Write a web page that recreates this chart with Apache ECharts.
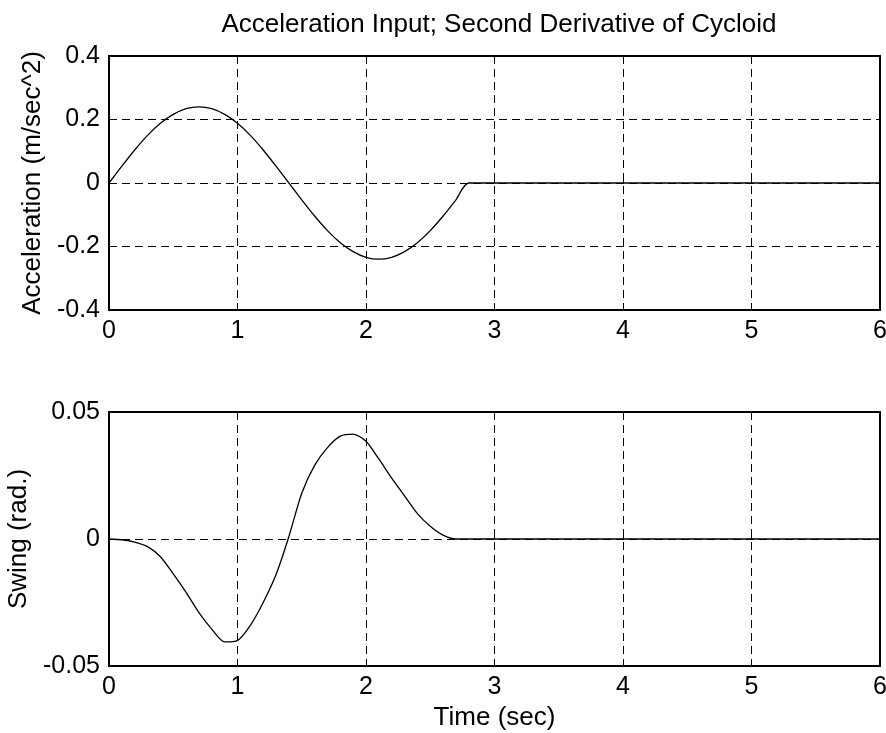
<!DOCTYPE html>
<html>
<head>
<meta charset="utf-8">
<script src="https://cdn.jsdelivr.net/npm/echarts@6/dist/echarts.min.js"></script>
<style>
    html, body {margin: 0; padding: 0; background: #fff;}
    #chart {width: 886px; height: 733px;}
</style>
</head>
<body>
<div id="chart"></div>
<script>
// time points (sec) and values
let timeTop = [0, 0.1, 0.2, 0.3, 0.4, 0.5, 0.6, 0.7, 0.8, 0.9, 1.0, 1.1, 1.2, 1.3, 1.4,
    1.5, 1.6, 1.7, 1.8, 1.9, 2.0, 2.1, 2.2, 2.3, 2.4, 2.5, 2.6, 2.7, 2.8, 6];
let accel = [0, 0.053, 0.104, 0.150, 0.188, 0.216, 0.234, 0.240, 0.234, 0.216, 0.188, 0.150, 0.104, 0.053, 0,
    -0.053, -0.104, -0.150, -0.188, -0.216, -0.234, -0.240, -0.234, -0.216, -0.188, -0.150, -0.104, -0.053, 0, 0];

let timeBottom = [0, 0.1, 0.2, 0.3, 0.4, 0.5, 0.6, 0.7, 0.8, 0.9, 1.0, 1.1, 1.2, 1.3, 1.4,
    1.5, 1.6, 1.7, 1.8, 1.9, 2.0, 2.1, 2.2, 2.3, 2.4, 2.5, 2.6, 2.7, 6];
let swing = [0, -0.0003, -0.0012, -0.003, -0.007, -0.0137, -0.021, -0.029, -0.0355, -0.0405, -0.0400, -0.034, -0.025, -0.014, 0.001,
    0.018, 0.029, 0.036, 0.0405, 0.0413, 0.0385, 0.0315, 0.024, 0.017, 0.010, 0.005, 0.0015, 0, 0];

let xTicks = [0, 1, 2, 3, 4, 5, 6];
let topTicks = [-0.4, -0.2, 0, 0.2, 0.4];
let bottomTicks = [-0.05, 0, 0.05];

let font = 'Liberation Sans';
let gridLine = {show: true, lineStyle: {color: '#000', type: [8, 5], width: 1}};

function xAxisFor(idx, name) {
    return {
        type: 'value', gridIndex: idx, min: xTicks[0], max: xTicks[xTicks.length - 1], interval: 1,
        name: name, nameLocation: 'middle', nameGap: 39,
        nameTextStyle: {color: '#000', fontSize: 26, fontFamily: font},
        axisLine: {show: false},
        axisTick: {show: true, inside: true, length: 5, lineStyle: {color: '#000'}},
        axisLabel: {color: '#000', fontSize: 25, fontFamily: font, margin: 9},
        splitLine: gridLine
    };
}

function yAxisFor(idx, ticks, name, gap) {
    return {
        type: 'value', gridIndex: idx, min: ticks[0], max: ticks[ticks.length - 1], interval: ticks[1] - ticks[0],
        name: name, nameLocation: 'middle', nameGap: gap,
        nameTextStyle: {color: '#000', fontSize: 26, fontFamily: font},
        axisLine: {show: false},
        axisTick: {show: true, inside: true, length: 5, lineStyle: {color: '#000'}},
        axisLabel: {color: '#000', fontSize: 25, fontFamily: font, margin: 9},
        splitLine: gridLine
    };
}

let myChart = echarts.init(document.getElementById('chart'));

let option = {
    animation: false,
    backgroundColor: '#fff',
    title: {
        text: 'Acceleration Input; Second Derivative of Cycloid',
        left: 494, top: 7, textAlign: 'center',
        textStyle: {color: '#000', fontSize: 26, fontWeight: 'normal', fontFamily: font}
    },
    grid: [
        {left: 109, right: 6, top: 56, height: 254, show: true, borderColor: '#000', borderWidth: 2,
            backgroundColor: '#fff', outerBoundsMode: 'none', containLabel: false},
        {left: 109, right: 6, top: 412, height: 254, show: true, borderColor: '#000', borderWidth: 2,
            backgroundColor: '#fff', outerBoundsMode: 'none', containLabel: false}
    ],
    xAxis: [xAxisFor(0, ''), xAxisFor(1, 'Time (sec)')],
    yAxis: [
        yAxisFor(0, topTicks, 'Acceleration (m/sec^2)', 59),
        yAxisFor(1, bottomTicks, 'Swing (rad.)', 72)
    ],
    series: [
        {
            type: 'line', xAxisIndex: 0, yAxisIndex: 0, showSymbol: false, smooth: 0.25,
            lineStyle: {color: '#000', width: 1.3},
            data: timeTop.map((t, i) => [t, accel[i]])
        },
        {
            type: 'line', xAxisIndex: 1, yAxisIndex: 1, showSymbol: false, smooth: 0.25,
            lineStyle: {color: '#000', width: 1.3},
            data: timeBottom.map((t, i) => [t, swing[i]])
        }
    ]
};

myChart.setOption(option);
</script>
</body>
</html>
